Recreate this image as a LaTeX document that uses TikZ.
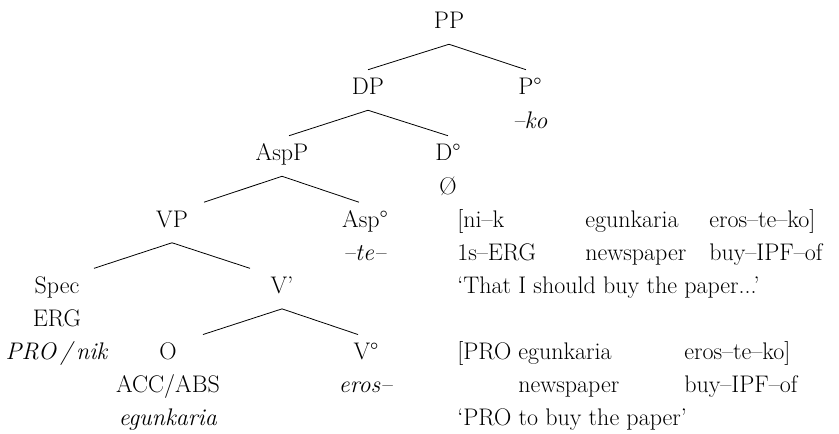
\documentclass[tikz,border=0pt]{standalone}
\usetikzlibrary{calc}

\begin{document}
\begin{tikzpicture}[x=0.75pt, y=-0.75pt, node distance=24.8pt,
  every node/.style={inner xsep=0pt, inner ysep=3.75pt, text height=15pt, text depth=7.5pt,
    font=\fontsize{18}{21}\selectfont},
  gloss/.style={anchor=west},
  branch/.style={line width=0.6pt}]
\useasboundingbox (0,0) rectangle (839,434);
% tree
\node  (pp) at (449,24) {PP};
\node  (dp) at (368,90) {DP};
\node  (p) at (530,90) {P\textdegree};
\node  (ko) [below of = p] {\textit{--ko}};
\node  (aspp) at (282,156) {AspP};
\node  (d) at (448,156) {D\textdegree};
\node  (null) [below of = d] {Ø};
\node  (vp) at (172,222.5) {VP};
\node  (asp) at (365,222.5) {Asp\textdegree};
\node  (te) [below of = asp] {\textit{--te--}};
\node  (spec) at (57,288.6) {Spec};
\node  (erg) [below of = spec] {ERG};
\node  (pronik) [below of = erg] {\textit{PRO\,/\,nik}};
\node  (vbar) at (282,288.6) {V'};
\node  (o) at (168,354.8) {O};
\node  (acc) [below of = o] {ACC/ABS};
\node  (egun) [below of = acc] {\textit{egunkaria}};
\node  (v) at (366,354.8) {V\textdegree};
\node  (eros) [below of = v] {\textit{eros--}};
\draw[branch] (pp.south) -- (dp.north);
\draw[branch] (pp.south) -- ($(p.north)+(-4,0)$);
\draw[branch] (dp.south) -- ($(aspp.north)+(7,0)$);
\draw[branch] (dp.south) -- (d.north);
\draw[branch] (aspp.south) -- ($(vp.north)+(32,0)$);
\draw[branch] (aspp.south) -- ($(asp.north)+(-6,0)$);
\draw[branch] (vp.south) -- ($(spec.north)+(37,0)$);
\draw[branch] (vp.south) -- ($(vbar.north)+(-32,0)$);
\draw[branch] (vbar.south) -- ($(o.north)+(35,0)$);
\draw[branch] (vbar.south) -- ($(v.north)+(-8,0)$);
% glosses
\node[gloss]  (nik) at (457,222.5) {[ni--k};
\node[gloss]  (egunA) at (585,222.5) {egunkaria};
\node[gloss]  (erosA) at (709,222.5) {eros--te--ko]};
\node[gloss]  (sERG) at (457,255.6) {1s--ERG};
\node[gloss]  (paperA) at (585,255.6) {newspaper};
\node[gloss]  (buyA) at (709,255.6) {buy--IPF--of};
\node[gloss]  (transA) at (457,288.6) {`That I should buy the paper...'};
\node[gloss]  (pro) at (457,354.8) {[PRO};
\node[gloss]  (egunB) at (518,354.8) {egunkaria};
\node[gloss]  (erosB) at (684,354.8) {eros--te--ko]};
\node[gloss]  (paperB) at (518,387.9) {newspaper};
\node[gloss]  (buyB) at (684,387.9) {buy--IPF--of};
\node[gloss]  (transB) at (457,421) {`PRO to buy the paper'};
\end{tikzpicture}
\end{document}
